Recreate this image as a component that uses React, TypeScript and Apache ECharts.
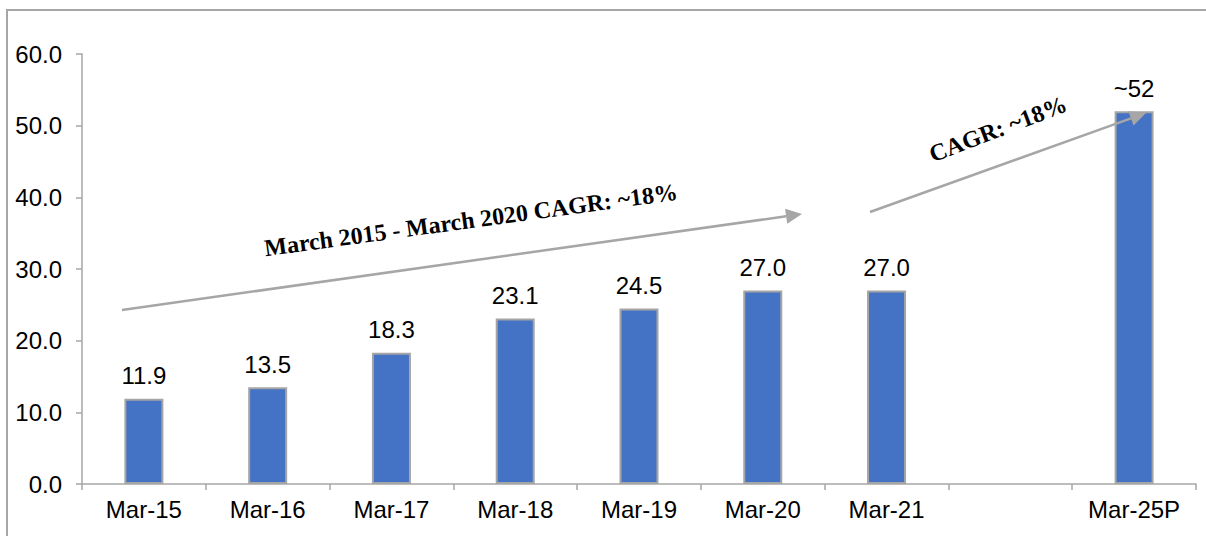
import React, { useEffect, useRef } from "react";
import * as echarts from "echarts";

const categories = ["Mar-15", "Mar-16", "Mar-17", "Mar-18", "Mar-19", "Mar-20", "Mar-21", "", "Mar-25P"];
const values: (number | null)[] = [11.9, 13.5, 18.3, 23.1, 24.5, 27.0, 27.0, null, 52];
const valueLabels = ["11.9", "13.5", "18.3", "23.1", "24.5", "27.0", "27.0", "", "~52"];
const annotation1 = "March 2015 - March 2020 CAGR: ~18%";
const annotation2 = "CAGR: ~18%";

const GRAY = "#A6A6A6";
const FONT = "Liberation Sans, Arial";

export default function App() {
  const ref = useRef<HTMLDivElement>(null);
  useEffect(() => {
    if (!ref.current) return;
    const chart = echarts.init(ref.current, null, { renderer: "svg" });
    const arrow = (x1: number, y1: number, x2: number, y2: number) => {
      const ang = Math.atan2(y2 - y1, x2 - x1);
      const hl = 16, hw = 7.5;
      const bx = x2 - hl * Math.cos(ang), by = y2 - hl * Math.sin(ang);
      const px = -Math.sin(ang), py = Math.cos(ang);
      return [
        { type: "line", z: 100, shape: { x1, y1, x2: bx, y2: by }, style: { stroke: GRAY, lineWidth: 2.5 } },
        {
          type: "polygon",
          z: 100,
          shape: { points: [[x2, y2], [bx + px * hw, by + py * hw], [bx - px * hw, by - py * hw]] },
          style: { fill: GRAY },
        },
      ];
    };
    chart.setOption({
      animation: false,
      grid: { left: 82, right: 10, top: 54, bottom: 52 },
      xAxis: {
        type: "category",
        data: categories,
        axisLine: { lineStyle: { color: GRAY, width: 1.5 } },
        axisTick: { show: true, length: 6, lineStyle: { color: GRAY, width: 1.5 } },
        axisLabel: { color: "#000", fontSize: 24, fontFamily: FONT, margin: 13, interval: 0 },
      },
      yAxis: {
        type: "value",
        min: 0,
        max: 60,
        interval: 10,
        splitLine: { show: false },
        axisLine: { show: true, lineStyle: { color: GRAY, width: 1.5 } },
        axisTick: { show: true, length: 6, lineStyle: { color: GRAY, width: 1.5 } },
        axisLabel: {
          color: "#000",
          fontSize: 24,
          fontFamily: FONT,
          margin: 20,
          formatter: (v: number) => v.toFixed(1),
        },
      },
      series: [
        {
          type: "bar",
          data: values,
          barWidth: 39,
          itemStyle: { color: "#4472C4", borderColor: "#A5A5A5", borderWidth: 2 },
          label: {
            show: true,
            position: "top",
            distance: 11,
            color: "#000",
            fontSize: 24,
            fontFamily: FONT,
            formatter: (p: any) => valueLabels[p.dataIndex],
          },
        },
      ],
      graphic: [
        {
          type: "rect",
          shape: { x: 7, y: 10, width: 1300, height: 700 },
          style: { fill: "none", stroke: GRAY, lineWidth: 2 },
          silent: true,
        },
        ...arrow(122, 310, 802, 214),
        ...arrow(870, 212, 1146, 113),
        {
          type: "text",
          z: 100,
          x: 471,
          y: 220,
          rotation: (7.8 * Math.PI) / 180,
          style: {
            text: annotation1,
            fontSize: 24,
            fontWeight: "bold",
            fontFamily: "Liberation Serif, Times New Roman",
            fill: "#000",
            align: "center",
            verticalAlign: "middle",
          },
        },
        {
          type: "text",
          z: 100,
          x: 998,
          y: 129,
          rotation: (21 * Math.PI) / 180,
          style: {
            text: annotation2,
            fontSize: 24,
            fontWeight: "bold",
            fontFamily: "Liberation Serif, Times New Roman",
            fill: "#000",
            align: "center",
            verticalAlign: "middle",
          },
        },
      ],
    });
    return () => chart.dispose();
  }, []);
  return <div ref={ref} style={{ width: 1206, height: 536, position: "absolute", left: 0, top: 0 }} />;
}
